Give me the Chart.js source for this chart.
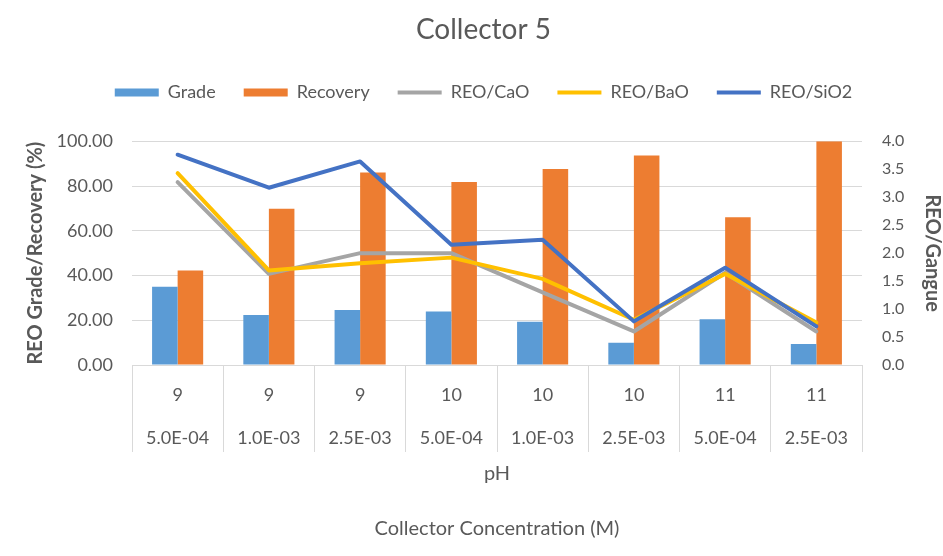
<!DOCTYPE html>
<html>
<head>
<meta charset="utf-8">
<title>Collector 5</title>
<script src="https://cdn.jsdelivr.net/npm/chart.js@4"></script>
<style>
  html, body { margin: 0; padding: 0; background: #fff; }
  #wrap { width: 943px; height: 556px; position: relative; }
</style>
</head>
<body>
<div id="wrap"><canvas id="myChart"></canvas></div>
<script>
'use strict';

// pH / collector concentration pairs on the category axis
let phValues = ['9', '9', '9', '10', '10', '10', '11', '11'];
let concentrations = ['5.0E-04', '1.0E-03', '2.5E-03', '5.0E-04', '1.0E-03', '2.5E-03', '5.0E-04', '2.5E-03'];

// left axis (%)
let grade = [35.0, 22.4, 24.6, 23.9, 19.3, 10.0, 20.5, 9.4];
let recovery = [42.2, 69.9, 86.1, 81.8, 87.6, 93.6, 66.1, 100.0];

// right axis (REO/gangue ratio)
let reoCaO = [3.27, 1.63, 2.0, 2.0, 1.30, 0.60, 1.65, 0.60];
let reoBaO = [3.43, 1.69, 1.82, 1.92, 1.54, 0.81, 1.63, 0.76];
let reoSiO2 = [3.76, 3.17, 3.64, 2.15, 2.24, 0.78, 1.74, 0.69];

let textColor = '#595959';
let gridColor = '#d9d9d9';
let fontFamily = 'Lato, "Open Sans", sans-serif';

let labels = [];
for (let i = 0; i < phValues.length; i++) {
  labels.push([phValues[i], concentrations[i]]);
}

function lineSet(name, values, color, order) {
  return {
    type: 'line',
    label: name,
    data: values,
    yAxisID: 'y1',
    xAxisID: 'x',
    borderColor: color,
    backgroundColor: color,
    borderWidth: 4,
    pointRadius: 0,
    pointStyle: 'line',
    tension: 0,
    borderJoinStyle: 'round',
    borderCapStyle: 'round',
    order: order
  };
}

function barSet(name, values, color) {
  return {
    type: 'bar',
    label: name,
    data: values,
    yAxisID: 'y',
    xAxisID: 'x',
    backgroundColor: color,
    borderWidth: 0,
    pointStyle: 'rect',
    categoryPercentage: 0.56,
    barPercentage: 1.0,
    order: 10
  };
}

const chartConfig = {
  data: {
    labels: labels,
    datasets: [
      barSet('Grade', grade, '#5b9bd5'),
      barSet('Recovery', recovery, '#ed7d31'),
      lineSet('REO/CaO', reoCaO, '#a5a5a5', 3),
      lineSet('REO/BaO', reoBaO, '#ffc000', 2),
      lineSet('REO/SiO2', reoSiO2, '#4472c4', 1)
    ]
  },
  options: {
    responsive: true,
    maintainAspectRatio: false,
    animation: false,
    layout: {
      padding: { left: 24, right: 0, top: 0, bottom: 0 }
    },
    plugins: {
      tooltip: { enabled: false },
      title: {
        display: true,
        text: 'Collector 5',
        color: textColor,
        font: { family: fontFamily, size: 28, weight: 'normal', lineHeight: 1.2 },
        padding: { top: 13, bottom: 9 }
      },
      legend: {
        position: 'top',
        labels: {
          usePointStyle: true,
          pointStyleWidth: 44,
          boxHeight: 8,
          padding: 28,
          color: textColor,
          font: { family: fontFamily, size: 18 },
          sort: function (a, b) { return a.datasetIndex - b.datasetIndex; }
        }
      }
    },
    scales: {
      x: {
        type: 'category',
        position: 'bottom',
        offset: true,
        grid: {
          offset: true,
          drawOnChartArea: false,
          color: gridColor,
          tickLength: 87
        },
        border: { display: true, color: gridColor },
        ticks: {
          color: textColor,
          font: { family: fontFamily, size: 18, lineHeight: 2.39 },
          padding: -78.5,
          autoSkip: false,
          maxRotation: 0
        },
        title: {
          display: true,
          text: ['pH', 'Collector Concentration (M)'],
          color: textColor,
          font: { family: fontFamily, size: 20, lineHeight: 2.75 },
          padding: { top: 0, bottom: 0 }
        },
        afterFit: function (scale) { scale.height = 191; }
      },
      // empty strip between the legend and the plot
      gap: {
        type: 'category',
        position: 'top',
        labels: [''],
        grid: { display: false },
        border: { display: false },
        ticks: { display: false },
        afterFit: function (scale) { scale.height = 29.7; }
      },
      y: {
        position: 'left',
        min: 0,
        max: 100,
        ticks: {
          stepSize: 20,
          color: textColor,
          font: { family: fontFamily, size: 18 },
          padding: 19,
          callback: function (v) { return v.toFixed(2); }
        },
        grid: { color: gridColor, drawTicks: false },
        border: { display: false },
        title: {
          display: true,
          text: 'REO Grade/Recovery (%)',
          color: textColor,
          font: { family: fontFamily, size: 20, weight: 'bold', lineHeight: 1.2 },
          padding: { top: 0, bottom: 0 }
        },
        afterFit: function (scale) { scale.width = 108; }
      },
      y1: {
        position: 'right',
        min: 0,
        max: 4,
        ticks: {
          stepSize: 0.5,
          color: textColor,
          font: { family: fontFamily, size: 16 },
          padding: 20,
          callback: function (v) { return v.toFixed(1); }
        },
        grid: { drawOnChartArea: false, drawTicks: false },
        border: { display: false },
        title: {
          display: true,
          text: 'REO/Gangue',
          color: textColor,
          font: { family: fontFamily, size: 20, weight: 'bold', lineHeight: 1.1 },
          padding: { top: 0, bottom: 0 }
        },
        afterFit: function (scale) { scale.width = 81; }
      }
    }
  }
};

let ctx = document.getElementById('myChart').getContext('2d');
const myChart = new Chart(ctx, chartConfig);
</script>
</body>
</html>
